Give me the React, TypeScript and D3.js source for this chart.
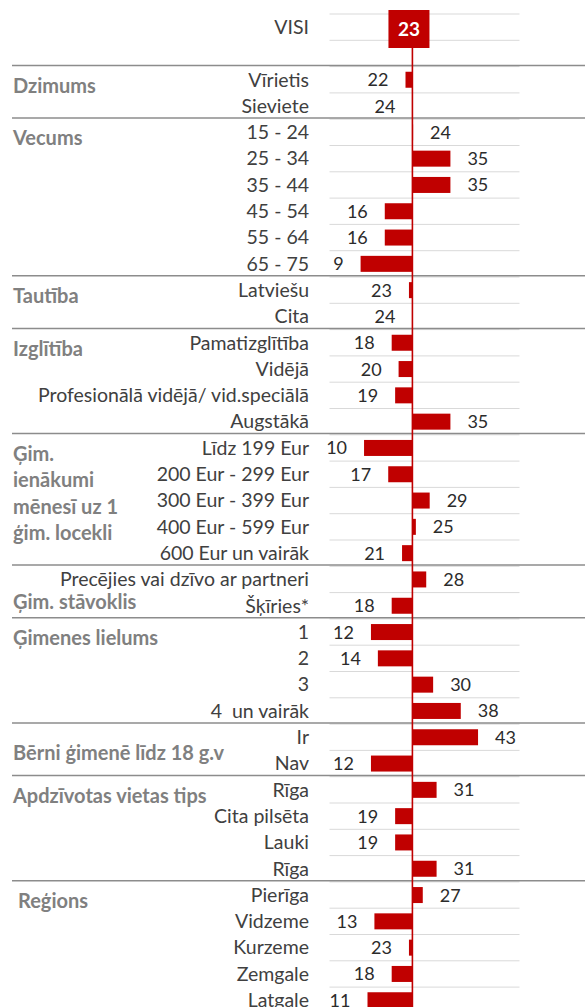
import { useEffect, useRef } from "react";
import * as d3 from "d3";

// overall figure shown in the red box and the reference line the bars grow from
const overallLabel = "VISI";
const overallValue = 23;
const referenceValue = 24;

const genderCats = ["Vīrietis", "Sieviete"];
const genderVals = [22, 24];
const ageCats = ["15 - 24", "25 - 34", "35 - 44", "45 - 54", "55 - 64", "65 - 75"];
const ageVals = [24.2, 35, 35, 16, 16, 9];
const nationCats = ["Latviešu", "Cita"];
const nationVals = [23, 24];
const eduCats = ["Pamatizglītība", "Vidējā", "Profesionālā vidējā/ vid.speciālā", "Augstākā"];
const eduVals = [18, 20, 19, 35];
const incomeCats = ["Līdz 199 Eur", "200 Eur - 299 Eur", "300 Eur - 399 Eur", "400 Eur - 599 Eur", "600 Eur un vairāk"];
const incomeVals = [10, 17, 29, 25, 21];
const maritalCats = ["Precējies vai dzīvo ar partneri", "Šķīries*"];
const maritalVals = [28, 18];
const familyCats = ["1", "2", "3", "4  un vairāk"];
const familyVals = [12, 14, 30, 38];
const kidsCats = ["Ir", "Nav"];
const kidsVals = [43, 12];
const settlementCats = ["Rīga", "Cita pilsēta", "Lauki", "Rīga"];
const settlementVals = [31, 19, 19, 31];
const regionCats = ["Pierīga", "Vidzeme", "Kurzeme", "Zemgale", "Latgale"];
const regionVals = [27, 13, 23, 18, 11];

const groupTitles = [
    ["Dzimums"],
    ["Vecums"],
    ["Tautība"],
    ["Izglītība"],
    ["Ģim.", "ienākumi", "mēnesī uz 1", "ģim. locekli"],
    ["Ģim. stāvoklis"],
    ["Ģimenes lielums"],
    ["Bērni ģimenē līdz 18 g.v"],
    ["Apdzīvotas vietas tips"],
    ["Reģions"],
];
const groupCats = [genderCats, ageCats, nationCats, eduCats, incomeCats, maritalCats, familyCats, kidsCats, settlementCats, regionCats];
const groupVals = [genderVals, ageVals, nationVals, eduVals, incomeVals, maritalVals, familyVals, kidsVals, settlementVals, regionVals];

interface Row {
    key: string;
    group: number;
    cat: string;
    value: number;
}

export default function App() {
    const svgRef = useRef<SVGSVGElement | null>(null);

    useEffect(() => {
        const width = 585;
        const height = 1007;
        const red = "#c00000";
        const font = "Lato, 'Open Sans', sans-serif";

        // build one flat list of rows: VISI, an empty spacer row, then every group
        const rows: Row[] = [];
        groupCats.forEach((cats, g) => {
            cats.forEach((c, i) => rows.push({ key: `g${g}-${i}`, group: g, cat: c, value: groupVals[g][i] }));
        });
        const keys = ["visi", "gap", ...rows.map(r => r.key)];

        const top = 14;
        const y = d3.scaleBand<string>()
            .domain(keys)
            .range([top, top + keys.length * 26.3])
            .padding(0);
        const step = y.step();
        const barH = 16;

        const x = d3.scaleLinear()
            .domain([0, 55])
            .range([329.5, 519.5]);

        const svg = d3.select(svgRef.current)
            .attr("width", width)
            .attr("height", height)
            .attr("viewBox", [0, 0, width, height].join(" "));
        svg.selectAll("*").remove();

        svg.append("rect").attr("width", width).attr("height", height).attr("fill", "#fff");

        // light grid lines at every row boundary
        const boundaries = d3.range(0, keys.length).map(i => top + i * step);
        svg.append("g")
            .selectAll("line")
            .data(boundaries)
            .join("line")
            .attr("x1", x(0))
            .attr("x2", x(55))
            .attr("y1", d => d)
            .attr("y2", d => d)
            .attr("stroke", "#d9d9d9")
            .attr("stroke-width", 1);

        // darker separators on top of each group
        const firstRows = groupCats.map((_, g) => `g${g}-0`);
        svg.append("g")
            .selectAll("line")
            .data(firstRows)
            .join("line")
            .attr("x1", 12)
            .attr("x2", width)
            .attr("y1", d => (y(d) ?? 0) - 1.2)
            .attr("y2", d => (y(d) ?? 0) - 1.2)
            .attr("stroke", "#8c8c8c")
            .attr("stroke-width", 1.5);

        // bars, from the reference line to the value
        const x0 = x(referenceValue);
        svg.append("g")
            .selectAll("rect")
            .data(rows)
            .join("rect")
            .attr("x", d => Math.min(x(d.value), x0))
            .attr("width", d => Math.abs(x(d.value) - x0))
            .attr("y", d => (y(d.key) ?? 0) + step / 2 - barH / 2)
            .attr("height", barH)
            .attr("fill", red);

        // reference line
        svg.append("line")
            .attr("x1", x0)
            .attr("x2", x0)
            .attr("y1", 47)
            .attr("y2", height)
            .attr("stroke", red)
            .attr("stroke-width", 1.6);

        // value labels outside the bar end
        svg.append("g")
            .selectAll("text")
            .data(rows)
            .join("text")
            .attr("x", d => d.value > referenceValue ? x(d.value) + 17 : x(d.value) - 17)
            .attr("y", d => (y(d.key) ?? 0) + step / 2)
            .attr("dy", "0.36em")
            .attr("text-anchor", d => d.value > referenceValue ? "start" : "end")
            .attr("font-family", font)
            .attr("font-size", 18)
            .attr("fill", "#2b2b2b")
            .text(d => d3.format(".0f")(d.value));

        // category labels
        svg.append("g")
            .selectAll("text")
            .data([{ key: "visi", cat: overallLabel }, ...rows])
            .join("text")
            .attr("x", 309)
            .attr("y", d => (y(d.key) ?? 0) + step / 2)
            .attr("dy", "0.35em")
            .attr("text-anchor", "end")
            .attr("font-family", font)
            .attr("font-size", 19.5)
            .attr("fill", "#404040")
            .style("white-space", "pre")
            .text(d => d.cat);

        // group titles (a few sit lower than the default)
        const shift: Record<number, number> = { 5: 17, 7: 10 };
        const titles = svg.append("g")
            .selectAll("text")
            .data(groupTitles)
            .join("text")
            .attr("x", (_, g) => g === 9 ? 18 : 13)
            .attr("y", (_, g) => (y(`g${g}-0`) ?? 0) + step / 2 + 13 + (shift[g] ?? 0))
            .attr("font-family", font)
            .attr("font-size", 20)
            .attr("font-weight", "bold")
            .attr("fill", "#808080");
        titles.selectAll("tspan")
            .data(d => d)
            .join("tspan")
            .attr("x", function () { return (this.parentNode as SVGTextElement).getAttribute("x"); })
            .attr("dy", (_, i) => i === 0 ? 0 : step)
            .text(d => d);

        // red box with the overall value
        const cx = x(overallValue);
        const cy = (y("visi") ?? 0) + step / 2;
        svg.append("rect")
            .attr("x", cx - 20.5)
            .attr("y", 10)
            .attr("width", 41)
            .attr("height", 38)
            .attr("fill", red);
        svg.append("text")
            .attr("x", cx)
            .attr("y", cy + 2)
            .attr("dy", "0.36em")
            .attr("text-anchor", "middle")
            .attr("font-family", font)
            .attr("font-size", 19)
            .attr("font-weight", "bold")
            .attr("fill", "#fff")
            .text(overallValue);
    }, []);

    return (
        <svg ref={svgRef} style={{ position: "absolute", left: 0, top: 0, display: "block" }} />
    );
}
